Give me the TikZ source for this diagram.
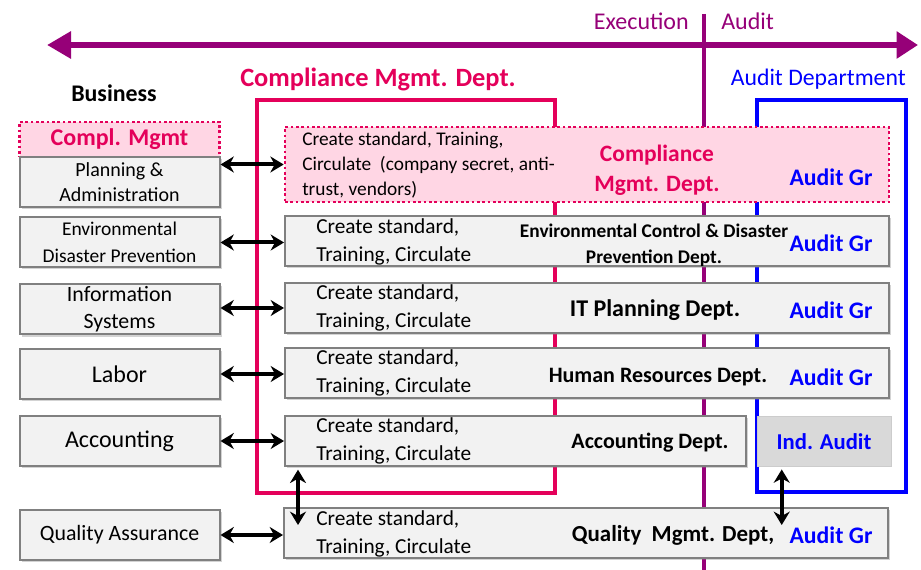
\documentclass[tikz,border=0pt]{standalone}
\usepackage{fontspec}
\setmainfont{Carlito}
\usepackage{tikz}
\usetikzlibrary{arrows.meta,shadows,calc}
\definecolor{execpurple}{RGB}{150,0,120}
\definecolor{cmcrimson}{RGB}{228,0,90}
\definecolor{cmpink}{RGB}{255,214,228}
\definecolor{auditblue}{RGB}{0,0,255}
\definecolor{boxfill}{RGB}{242,242,242}
\definecolor{boxline}{RGB}{128,128,128}
\definecolor{indfill}{RGB}{217,217,217}
\newcommand{\fs}[2]{\fontsize{#1}{#2}\selectfont}

\begin{document}
\begin{tikzpicture}[x=0.75pt, y=-0.75pt,
    unitbox/.style={draw=boxline, line width=1.5pt, fill=boxfill, inner sep=0pt, align=center,
        drop shadow={opacity=0.35, shadow xshift=1.5pt, shadow yshift=-1.5pt}},
    leftbox/.style={unitbox, minimum width=150pt, minimum height=37.5pt},
    rowbox/.style={unitbox, minimum width=453pt, minimum height=37.5pt},
    pinkbox/.style={draw=cmcrimson, dotted, line width=2pt, fill=cmpink, inner sep=0pt, align=center},
    linkarrow/.style={{Stealth[length=10pt,width=12pt]}-{Stealth[length=10pt,width=12pt]}, line width=3pt},
    stdtext/.style={anchor=west, inner sep=0pt, align=left, font=\fs{16}{21}},
    deptname/.style={inner sep=0pt, align=center, font=\bfseries\fs{18}{19}},
    auditgr/.style={inner sep=0pt, text=auditblue, font=\bfseries\fs{17.8}{18}}]
    \useasboundingbox (0,0) rectangle (921,570);

    % Frames
    \draw[cmcrimson, line width=3pt] (257,100) rectangle (555,493);
    \draw[auditblue, line width=3pt] (757,100) rectangle (906,492);
    \node[text=cmcrimson, font=\bfseries\fs{19.8}{20}, anchor=west, inner sep=0pt] (cmtitle) at (240,79) {Compliance Mgmt. Dept.};
    \node[text=auditblue, font=\fs{17.8}{18}, anchor=east, inner sep=0pt] (adtitle) at (906,79) {Audit Department};
    \node[font=\bfseries\fs{17.9}{18}, inner sep=0pt] (business) at (114,93) {Business};

    % Execution / Audit axis
    \coordinate (divtop) at (704,14);
    \coordinate (divbot) at (704,570);
    \coordinate (axisL) at (47,45);
    \coordinate (axisR) at (918,45);
    \draw[execpurple, line width=3.5pt] (divtop) -- (divbot);
    \draw[execpurple, line width=4.5pt, {Triangle[length=18pt,width=19.5pt]}-{Triangle[length=16pt,width=19.5pt]}] (axisL) -- (axisR);
    \node[text=execpurple, font=\fs{18}{18}, anchor=east, inner sep=0pt] (exec) at (689,21) {Execution};
    \node[text=execpurple, font=\fs{18}{18}, anchor=west, inner sep=0pt] (aud) at (721,21) {Audit};

    % Business side
    \node[pinkbox, minimum width=150pt, minimum height=26.25pt, text=cmcrimson, font=\bfseries\fs{18}{20}] (cmleft) at (119.5,139.5) {Compl. Mgmt};
    \node[leftbox, font=\fs{15}{18.5}] (plan) at (119.5,182) {Planning \&\\Administration};
    \node[leftbox, font=\fs{14.6}{20}] (envleft) at (119.5,242.5) {Environmental\\Disaster Prevention};
    \node[leftbox, font=\fs{16.4}{20}] (infoleft) at (119.5,309.5) {Information\\Systems};
    \node[leftbox, font=\fs{18}{18}] (labor) at (119.5,374) {Labor};
    \node[leftbox, font=\fs{18}{18}] (acc) at (119.5,441) {Accounting};
    \node[leftbox, font=\fs{16.4}{18}] (qa) at (119.5,535) {Quality Assurance};

    % Department rows
    \node[pinkbox, minimum width=453pt, minimum height=56.25pt] (row1) at (587,164.5) {};
    \node[anchor=west, inner sep=0pt, align=left, font=\fs{14.5}{19}] (row1txt) at (302,165) {Create standard, Training,\\Circulate~~(company secret, anti-\\trust, vendors)};
    \node[text=cmcrimson, font=\bfseries\fs{17.6}{22.5}, align=center, inner sep=0pt] (row1dept) at (657,170) {Compliance\\Mgmt. Dept.};
    \node[auditgr] (row1aud) at (831,177) {Audit Gr};

    \node[rowbox] (envrow) at (587,241.5) {};
    \node[stdtext] (envtxt) at (316,242) {Create standard,\\Training, Circulate};
    \node[deptname, font=\bfseries\fs{14.5}{19.5}] (envdept) at (654,245) {Environmental Control \& Disaster\\Prevention Dept.};
    \node[auditgr] (envaud) at (831,243) {Audit Gr};

    \node[rowbox] (itrow) at (587,308) {};
    \node[stdtext] (ittxt) at (316,308) {Create standard,\\Training, Circulate};
    \node[deptname] (itdept) at (655,310) {IT Planning Dept.};
    \node[auditgr] (itaud) at (831,310) {Audit Gr};

    \node[rowbox] (hrrow) at (587,373) {};
    \node[stdtext] (hrtxt) at (316,373) {Create standard,\\Training, Circulate};
    \node[deptname, font=\bfseries\fs{16.5}{18}] (hrdept) at (658,377) {Human Resources Dept.};
    \node[auditgr] (hraud) at (831,377) {Audit Gr};

    \node[unitbox, minimum width=345.75pt, minimum height=37.5pt] (accrow) at (515.5,441) {};
    \node[stdtext] (acctxt) at (316,441) {Create standard,\\Training, Circulate};
    \node[deptname, font=\bfseries\fs{16.5}{18}] (accdept) at (650,443) {Accounting Dept.};
    \node[fill=indfill, draw=boxline!40, minimum width=100.5pt, minimum height=37.5pt, inner sep=0pt,
        text=auditblue, font=\bfseries\fs{17}{18}] (indaudit) at (824,441.5) {Ind. Audit};

    \node[rowbox] (qarow) at (586,533) {};
    \node[stdtext] (qatxt) at (316,534) {Create standard,\\Training, Circulate};
    \node[deptname, font=\bfseries\fs{17.2}{18}] (qadept) at (673,535) {Quality~ Mgmt. Dept,};
    \node[auditgr] (qaaud) at (831,535) {Audit Gr};

    % Links
    \draw[linkarrow] (row1.west -| plan.east) -- (row1.west);
    \draw[linkarrow] (envleft.east) -- (envleft.east -| envrow.west);
    \draw[linkarrow] (infoleft.east |- itrow.west) -- (itrow.west);
    \draw[linkarrow] (labor.east) -- (labor.east -| hrrow.west);
    \draw[linkarrow] (acc.east) -- (acc.east -| accrow.west);
    \draw[linkarrow] (qa.east) -- (qa.east -| qarow.west);
    \coordinate (qaspot) at ([yshift=-13.5pt]qarow.north);
    \coordinate (accout) at ([xshift=10.5pt,yshift=-2pt]accrow.south west);
    \coordinate (iaout) at ([xshift=18.75pt,yshift=-2pt]indaudit.south west);
    \draw[linkarrow] (accout) -- (accout |- qaspot);
    \draw[linkarrow] (iaout) -- (iaout |- qaspot);
\end{tikzpicture}
\end{document}
